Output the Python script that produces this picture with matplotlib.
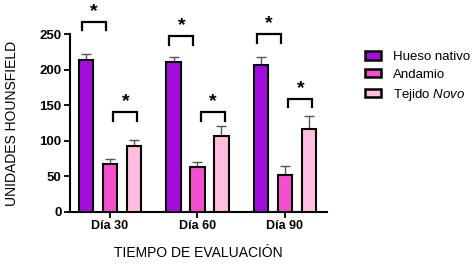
import numpy as np
import matplotlib

matplotlib.use("Agg")
import matplotlib.pyplot as plt
from matplotlib.patches import Patch

plt.rcParams["font.family"] = ["Liberation Sans", "DejaVu Sans"]
plt.rcParams["mathtext.fontset"] = "custom"
plt.rcParams["mathtext.it"] = "Liberation Sans:italic"
plt.rcParams["mathtext.rm"] = "Liberation Sans"

# data
days = ["Día 30", "Día 60", "Día 90"]
series = ["Hueso nativo", "Andamio", "Tejido $\\it{Novo}$"]
hueso = [214, 211, 207]
hueso_err = [8, 6, 10]
andamio = [68, 63, 52]
andamio_err = [6, 7, 12]
tejido = [92, 107, 117]
tejido_err = [9, 14, 18]

# heights of the significance brackets per day
sig_native = [267, 247, 250]
sig_novo = [140, 140, 159]

colors = ["#A40BDD", "#F44FCF", "#FFBEDF"]

fig = plt.figure(figsize=(4.76, 2.64), dpi=100)
ax = fig.add_axes([70 / 476, 52 / 264, 257 / 476, 178 / 264])

x = np.arange(len(days))
off = 0.274
w = 0.165
for i, (vals, errs) in enumerate([(hueso, hueso_err), (andamio, andamio_err), (tejido, tejido_err)]):
    pos = x + (i - 1) * off
    ax.bar(pos, vals, w, color=colors[i], edgecolor="black", linewidth=1.5, zorder=3)
    ax.errorbar(pos, vals, yerr=[np.zeros(len(vals)), errs], fmt="none",
                ecolor="#555555", elinewidth=1.0, capsize=3.5, capthick=1.0, zorder=2)


def bracket(x0, x1, y, leg=12):
    ax.plot([x0, x0, x1, x1], [y - leg, y, y, y - leg], color="black", lw=1.6,
            clip_on=False, solid_joinstyle="miter", zorder=4)
    ax.text((x0 + x1) / 2, y + 3, "*", ha="center", va="bottom", fontsize=14,
            fontweight="bold", clip_on=False)


for i in range(len(days)):
    bracket(x[i] - 0.32, x[i] - 0.05, sig_native[i])
    bracket(x[i] + 0.04, x[i] + 0.31, sig_novo[i])

ax.set_xlim(-0.457, 2.48)
ax.set_ylim(0, 250)
ax.set_yticks([0, 50, 100, 150, 200, 250])
ax.set_xticks(x)
ax.set_xticklabels(days, fontweight="bold", fontsize=9)
for lab in ax.get_yticklabels():
    lab.set_fontweight("bold")
    lab.set_fontsize(9.5)
ax.tick_params(axis="both", width=1.3, length=4, pad=2)
ax.spines["top"].set_visible(False)
ax.spines["right"].set_visible(False)
ax.spines["left"].set_linewidth(1.5)
ax.spines["bottom"].set_linewidth(1.5)

ax.set_ylabel("UNIDADES HOUNSFIELD", fontsize=10, labelpad=15)
ax.set_xlabel("TIEMPO DE EVALUACIÓN", fontsize=10, labelpad=10)

handles = [Patch(facecolor=c, edgecolor="black", linewidth=1.8) for c in colors]
fig.legend(handles, series, loc="upper left", bbox_to_anchor=(365 / 476, 1 - 51 / 264),
           frameon=False, fontsize=9.5, handlelength=1.25, handleheight=0.6,
           labelspacing=0.45, handletextpad=0.9, borderpad=0, borderaxespad=0)

fig.savefig("out.png", dpi=100)
